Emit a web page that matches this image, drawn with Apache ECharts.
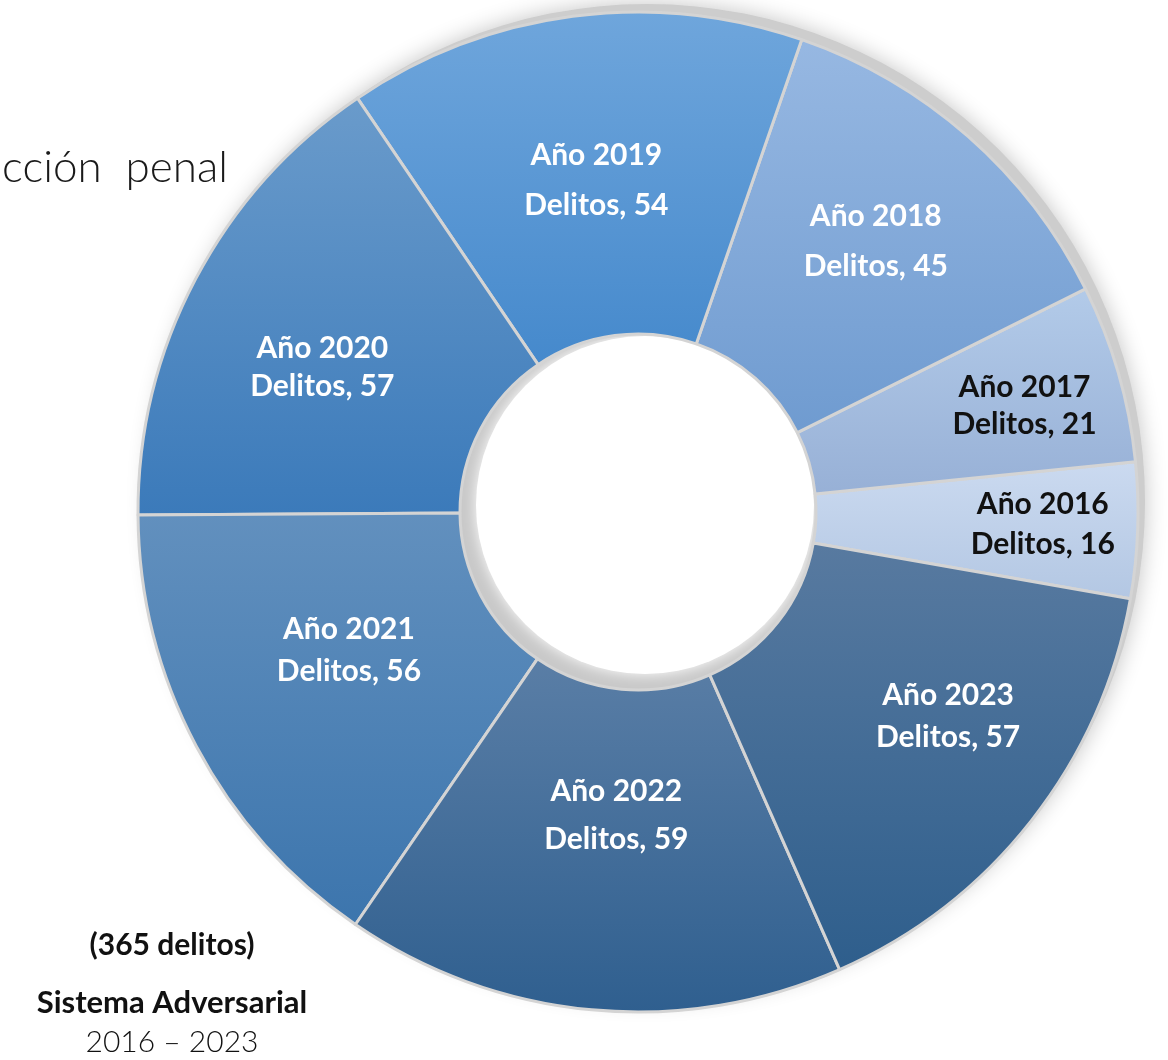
<!DOCTYPE html>
<html>
<head>
<meta charset="utf-8">
<script src="https://cdn.jsdelivr.net/npm/echarts@6/dist/echarts.min.js"></script>
<style>
  html, body { margin: 0; padding: 0; background: #fff; }
  #chart { width: 1168px; height: 1060px; }
</style>
</head>
<body>
<div id="chart"></div>
<script>
// datos del grafico (en orden de año)
var years = ['2016', '2017', '2018', '2019', '2020', '2021', '2022', '2023'];
var delitos = [16, 21, 45, 54, 57, 56, 59, 57];

// degradado de cada rebanada: arriba -> abajo
var colorTop = ['#cbdaf0', '#b3cbe9', '#97b8e2', '#6fa6dc', '#6a9bcb', '#6290be', '#5a7ea6', '#587aa0'];
var colorBottom = ['#b3c7e3', '#97b0d6', '#6f9bd0', '#4589cc', '#3b7aba', '#3c75ad', '#2f5f8f', '#2e5e8c'];
var labelColor = ['#111', '#111', '#fff', '#fff', '#fff', '#fff', '#fff', '#fff'];
// ajuste de etiquetas
var labelOffset = [[63, 0], [58, -11], [12, -14], [3, 7], [-13, 15], [13, -22], [10, -37], [41, -7]];
var labelLine = [40, 37, 50, 50, 38, 42, 48, 42];

var total = delitos.reduce(function (a, b) { return a + b; }, 0);
var cx = 638, cy = 512;

var data = years.map(function (y, i) {
    return {
        name: y,
        value: delitos[i],
        itemStyle: {
            color: new echarts.graphic.LinearGradient(0, 0, 0, 1, [
                {offset: 0, color: colorTop[i]},
                {offset: 1, color: colorBottom[i]}
            ])
        },
        label: {
            color: labelColor[i],
            offset: labelOffset[i],
            lineHeight: labelLine[i]
        }
    };
});

var chart = echarts.init(document.getElementById('chart'));
chart.setOption({
    animation: false,
    graphic: [
        // sombra exterior
        {
            type: 'circle', z: 0,
            shape: {cx: cx + 9, cy: cy - 10, r: 498},
            style: {fill: '#cdcdcd', shadowBlur: 22, shadowColor: '#c4c4c4'}
        },
        // hueco con sombra interior
        {
            type: 'circle', z: 0,
            shape: {cx: cx, cy: cy, r: 180},
            style: {fill: '#c9c9c9'}
        },
        {
            type: 'circle', z: 0,
            shape: {cx: cx + 7, cy: cy - 7, r: 169},
            style: {fill: '#fff', shadowBlur: 14, shadowColor: '#fff'}
        },
        {
            type: 'text', z: 5, top: 146,
            style: {text: 'cción  penal', font: '300 44px Lato', fill: '#1a1a1a', textAlign: 'right', x: 228}
        },
        {
            type: 'text', z: 5, top: 930,
            style: {text: '(' + total + ' delitos)', font: 'bold 30px Lato', fill: '#111', textAlign: 'center', x: 172}
        },
        {
            type: 'text', z: 5, top: 987,
            style: {text: 'Sistema Adversarial', font: 'bold 31px Lato', fill: '#111', textAlign: 'center', x: 172}
        },
        {
            type: 'text', z: 5, top: 1027,
            style: {text: '2016 – 2023', font: '300 30px Lato', fill: '#111', textAlign: 'center', x: 172}
        }
    ],
    series: [{
        type: 'pie',
        center: [cx, cy],
        radius: [178, 500],
        startAngle: -10,
        clockwise: false,
        avoidLabelOverlap: false,
        emphasis: {disabled: true},
        itemStyle: {
            borderColor: '#d4d4d4',
            borderWidth: 3
        },
        label: {
            show: true,
            position: 'inside',
            fontFamily: 'Lato',
            fontWeight: 'bold',
            fontSize: 30,
            formatter: function (p) {
                return 'Año ' + p.name + '\nDelitos, ' + p.value;
            }
        },
        labelLine: {show: false},
        data: data
    }]
});
</script>
</body>
</html>
